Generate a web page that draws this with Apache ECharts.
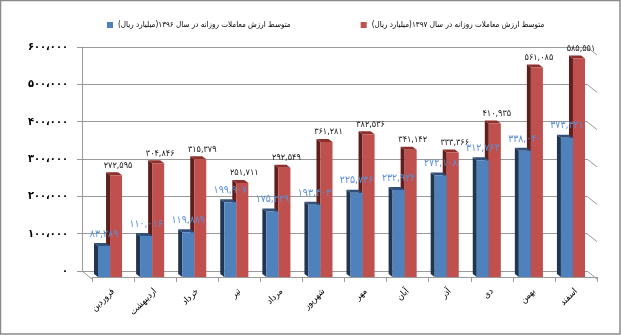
<!DOCTYPE html>
<html><head><meta charset="utf-8">
<script src="https://cdn.jsdelivr.net/npm/echarts@6/dist/echarts.min.js"></script>
<style>html,body{margin:0;padding:0;background:#fff}#c{width:621px;height:335px}</style>
</head><body><div id="c"></div>
<script>
const months = ['فروردین','اردیبهشت','خرداد','تیر','مرداد','شهریور','مهر','آبان','آذر','دی','بهمن','اسفند'];
const values1396 = [83289,110016,119889,199907,175229,193403,225736,232924,272108,312764,338040,373321];
const values1397 = [272595,304846,315379,251711,292549,361281,382536,341142,333366,410935,561085,585551];
const yTicks = [0,100000,200000,300000,400000,500000,600000];
const name1396 = 'متوسط ارزش معاملات روزانه در سال ۱۳۹۶(میلیارد ریال)';
const name1397 = 'متوسط ارزش معاملات روزانه در سال ۱۳۹۷(میلیارد ریال)';

const FONT = '"DejaVu Sans Condensed", "DejaVu Sans", sans-serif';
const faDigits = s => String(s).replace(/\d/g, d => '۰۱۲۳۴۵۶۷۸۹'[+d]);
const fmt = (v, sep) => faDigits(Math.round(v).toString().replace(/\B(?=(\d{3})+(?!\d))/g, '#')).replace(/#/g, sep);

function barRenderer(offFrac, front, side, top, labelColor, labelSize, labelDy, labelDx) {
  return function (params, api) {
    const idx = api.value(0), v = api.value(1);
    const bw = api.size([1, 0])[0];
    const pTop = api.coord([idx, v]);
    const pBase = api.coord([idx, 0]);
    const w = bw * 0.286;
    const x0 = pTop[0] + bw * offFrac;
    const yT = pTop[1], yB = pBase[1];
    const dx = 4, dy = 3;
    return {
      type: 'group', children: [
        { type: 'polygon', shape: { points: [[x0, yT], [x0 - dx, yT - dy], [x0 - dx, yB - dy], [x0, yB]] }, style: { fill: side } },
        { type: 'polygon', shape: { points: [[x0, yT], [x0 + w, yT], [x0 + w - dx, yT - dy], [x0 - dx, yT - dy]] }, style: { fill: top } },
        { type: 'rect', shape: { x: x0, y: yT, width: w, height: yB - yT }, style: { fill: front } },
        { type: 'text', z2: 10, x: x0 + w / 2 + labelDx, y: yT - labelDy,
          style: { text: fmt(v, ','), fill: labelColor, fontSize: labelSize, fontFamily: FONT, align: 'center', verticalAlign: 'middle' } }
      ]
    };
  };
}

function frameRenderer(params, api) {
  const v = api.value(1);
  const p = api.coord([1, v]);
  const children = [{ type: 'line', shape: { x1: p[0], y1: p[1], x2: p[0] + 10, y2: p[1] + 8 }, style: { stroke: '#9a9a9a', lineWidth: 1 } }];
  if (v === 0) {
    const q = api.coord([0, 0]);
    children.push({ type: 'line', shape: { x1: q[0], y1: q[1], x2: q[0] + 10, y2: q[1] + 8 }, style: { stroke: '#9a9a9a', lineWidth: 1 } });
  }
  return { type: 'group', children };
}

const chart = echarts.init(document.getElementById('c'));
chart.setOption({
  animation: false,
  backgroundColor: '#fff',
  graphic: [{ type: 'rect', shape: { x: 0.5, y: 0.5, width: 619.5, height: 333.5 }, style: { fill: 'none', stroke: '#8a8a8a', lineWidth: 1.5 }, silent: true }],
  legend: {
    data: [name1396, name1397], top: 16, left: 102, width: 510, itemGap: 70, itemWidth: 6, itemHeight: 6, icon: 'rect',
    textStyle: { fontSize: 8, fontFamily: FONT, color: '#000' }
  },
  grid: [
    { left: 82, right: 34, top: 47, height: 224 },
    { left: 92, right: 24, top: 53, height: 224 }
  ],
  xAxis: [
    { gridIndex: 0, type: 'value', min: 0, max: 1, show: false },
    { gridIndex: 1, type: 'category', data: months, offset: 2,
      axisLine: { show: true, lineStyle: { color: '#9a9a9a' } },
      axisTick: { show: true, length: 5, lineStyle: { color: '#9a9a9a' } },
      axisLabel: { rotate: 45, fontSize: 9, fontFamily: FONT, color: '#000', margin: 11 } }
  ],
  yAxis: [
    { gridIndex: 0, type: 'value', min: 0, max: 600000, interval: 100000,
      axisLine: { show: true, lineStyle: { color: '#9a9a9a' } },
      axisTick: { show: true, length: 5, lineStyle: { color: '#9a9a9a' } },
      splitLine: { show: true, lineStyle: { color: '#9a9a9a' } },
      axisLabel: { margin: 14, fontSize: 11, fontWeight: 'bold', fontFamily: FONT, color: '#000', formatter: v => fmt(v, '،') } },
    { gridIndex: 1, type: 'value', min: 0, max: 600000, show: false }
  ],
  series: [
    { type: 'custom', name: 'frame', xAxisIndex: 0, yAxisIndex: 0, silent: true, z: 1,
      data: yTicks.map(v => [1, v]), renderItem: frameRenderer },
    { type: 'custom', name: name1397, xAxisIndex: 1, yAxisIndex: 1, z: 2,
      itemStyle: { color: '#C0504D' },
      data: values1397.map((v, i) => [i, v]),
      renderItem: barRenderer(-0.071, '#C0504D', '#5E1F1D', '#8E2F2C', '#1a1a1a', 9, 10, 2) },
    { type: 'custom', name: name1396, xAxisIndex: 1, yAxisIndex: 1, z: 3,
      itemStyle: { color: '#4F81BD' },
      data: values1396.map((v, i) => [i, v]),
      renderItem: barRenderer(-0.357, '#4F81BD', '#1F3550', '#30507A', '#5B8ED4', 10.5, 12, 0) }
  ]
});
</script></body></html>
